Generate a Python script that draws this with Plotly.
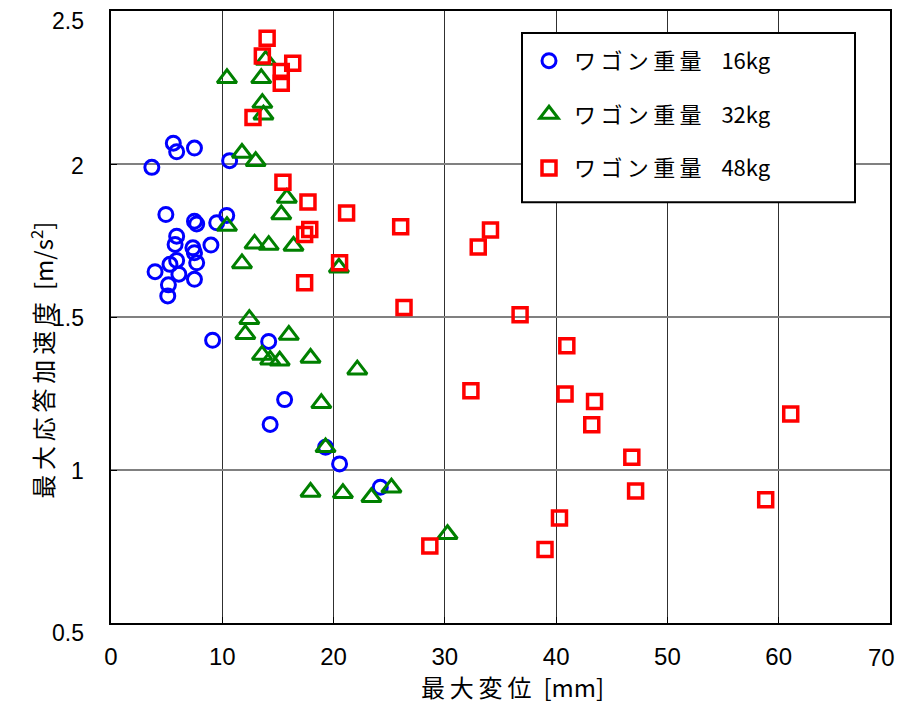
import plotly.graph_objects as go

# 16kg
x16 = [3.67, 5.6, 5.9, 7.5, 10.66, 4.93, 7.5, 7.7, 9.5, 10.4, 5.9, 5.76, 7.36, 7.5, 8.98,
       5.9, 5.3, 7.7, 3.96, 6.1, 7.5, 5.16, 5.1, 9.13, 14.17, 15.6, 14.3, 19.28, 20.54, 24.2]
y16 = [1.989, 2.068, 2.04, 2.052, 2.011, 1.835, 1.813, 1.804, 1.808, 1.832, 1.764, 1.737, 1.726, 1.71, 1.735,
       1.685, 1.672, 1.677, 1.648, 1.64, 1.623, 1.605, 1.569, 1.424, 1.42, 1.23, 1.149, 1.074, 1.02, 0.944]
# 32kg
x32 = [10.42, 13.5, 13.9, 13.6, 13.7, 11.77, 13.0, 15.8, 15.3, 10.42, 12.9, 14.17, 16.4, 11.77, 20.48,
       12.43, 12.07, 15.98, 13.57, 14.3, 15.16, 17.93, 22.13, 18.9, 19.28, 17.93, 20.84, 23.4, 25.2, 30.24]
y32 = [2.28, 2.28, 2.34, 2.199, 2.161, 2.036, 2.009, 1.889, 1.835, 1.797, 1.739, 1.735, 1.732, 1.675, 1.661,
       1.493, 1.444, 1.441, 1.376, 1.36, 1.357, 1.366, 1.328, 1.218, 1.074, 0.928, 0.924, 0.911, 0.942, 0.79]
# 48kg
x48 = [14.03, 13.6, 16.33, 15.3, 15.3, 12.76, 15.45, 17.7, 21.17, 17.86, 17.4, 26.03, 34.1, 33.0, 20.54,
       17.4, 26.33, 36.76, 40.96, 32.34, 40.8, 43.45, 43.2, 61.08, 46.8, 47.14, 58.83, 40.3, 39.0, 28.65]
y48 = [2.411, 2.353, 2.329, 2.302, 2.264, 2.152, 1.94, 1.876, 1.84, 1.786, 1.77, 1.795, 1.784, 1.729, 1.677,
       1.612, 1.531, 1.507, 1.406, 1.259, 1.248, 1.224, 1.148, 1.183, 1.042, 0.931, 0.903, 0.843, 0.74, 0.752]

names = ["ワゴン重量  16kg", "ワゴン重量  32kg", "ワゴン重量  48kg"]
xticks = [0, 10, 20, 30, 40, 50, 60, 70]
yticks = [0.5, 1, 1.5, 2, 2.5]
ytick_labels = ["0.5", "1", "1.5", "2", "2.5"]
ytick_shift = [-10, -1, -1, -2, -10]   # small vertical offsets of the y labels in the original
x_title = "最大変位 [mm]"
y_title = "最大応答加速度 [m/s<sup>2</sup>]"

TS = "\u2009"  # thin space used to mimic the wide letter pitch of the original font


def spaced(s):
    out = []
    for ch in s:
        out.append(ch)
        if ord(ch) > 0x3000:
            out.append(TS)
    return "".join(out).replace(TS + " ", " ")


def legend_name(s):
    return spaced(s).replace("  ", "\u2002\u2009\u2009")


def title_text(s):
    return spaced(s).replace(" ", "\u2002")


# page is offset by the 8px body margin, so the figure is 16px smaller
W, H = 890, 697
OFF = 8
L, T, R, B = 111 - OFF, 9 - OFF, OFF + W - 890, OFF + H - 623
PW, PH = 890 - 111, 623 - 9


def px(xp):
    return (xp - 111) / PW


def py(yp):
    return (623 - yp) / PH


fig = go.Figure()
fig.add_trace(go.Scatter(x=x16, y=y16, mode="markers", name=legend_name(names[0]),
                         marker=dict(symbol="circle-open", size=14, color="#0000FF",
                                     line=dict(width=3, color="#0000FF"))))
fig.add_trace(go.Scatter(x=x32, y=y32, mode="markers", name=legend_name(names[1]),
                         marker=dict(symbol="triangle-up-open", size=17, color="#008000",
                                     line=dict(width=3, color="#008000"))))
fig.add_trace(go.Scatter(x=x48, y=y48, mode="markers", name=legend_name(names[2]),
                         marker=dict(symbol="square-open", size=14, color="#FF0000",
                                     line=dict(width=3.5, color="#FF0000"))))

annotations = [
    dict(text=title_text(x_title), xref="paper", yref="paper", x=px(512), y=py(687),
         xanchor="center", yanchor="middle", showarrow=False,
         font=dict(family="Noto Sans CJK JP", size=24, color="black")),
    dict(text=title_text(y_title), xref="paper", yref="paper", x=px(42), y=py(360),
         xanchor="center", yanchor="middle", textangle=-90, showarrow=False,
         font=dict(family="Noto Sans CJK JP", size=24, color="black")),
]
for v, lab, s in zip(yticks, ytick_labels, ytick_shift):
    annotations.append(dict(text=lab, xref="paper", yref="y", x=px(86), y=v, yshift=s,
                            xanchor="right", yanchor="middle", showarrow=False,
                            font=dict(family="Liberation Sans, Arial", size=23, color="black")))
# the last x label sits at the very right edge; keep it inside the page
annotations.append(dict(text=str(xticks[-1]), xref="paper", yref="paper", x=px(897), y=py(658),
                        xanchor="right", yanchor="middle", showarrow=False,
                        font=dict(family="Liberation Sans, Arial", size=24, color="black")))

fig.update_layout(
    width=W, height=H,
    margin=dict(l=L, r=R, t=T, b=B),
    paper_bgcolor="white", plot_bgcolor="white",
    showlegend=True,
    legend=dict(x=px(524), y=py(38), xanchor="left", yanchor="top",
                bgcolor="rgba(0,0,0,0)", borderwidth=0,
                font=dict(family="Noto Sans CJK JP", size=22, color="black"),
                tracegroupgap=22, traceorder="grouped", itemwidth=40),
    shapes=[dict(type="rect", xref="paper", yref="paper", x0=px(522), x1=px(855),
                 y0=py(201), y1=py(31), fillcolor="white", line=dict(color="black", width=2),
                 layer="above")],
    xaxis=dict(range=[0, 70], tickvals=xticks,
               ticktext=[str(v) for v in xticks[:-1]] + [""],
               showgrid=True, gridcolor="#303030", gridwidth=1,
               showline=True, linecolor="black", linewidth=2, mirror=True,
               ticks="inside", ticklen=6, tickcolor="black", zeroline=False,
               tickfont=dict(family="Liberation Sans, Arial", size=24, color="black"),
               ticklabelstandoff=11),
    yaxis=dict(range=[0.5, 2.5], tickvals=yticks, showticklabels=False,
               showgrid=True, gridcolor="#808080", gridwidth=2,
               showline=True, linecolor="black", linewidth=2, mirror=True,
               ticks="inside", ticklen=6, tickcolor="black", zeroline=False),
    annotations=annotations,
)
for i, tr in enumerate(fig.data):
    tr.legendgroup = "g%d" % i

fig.write_html("out.html")
